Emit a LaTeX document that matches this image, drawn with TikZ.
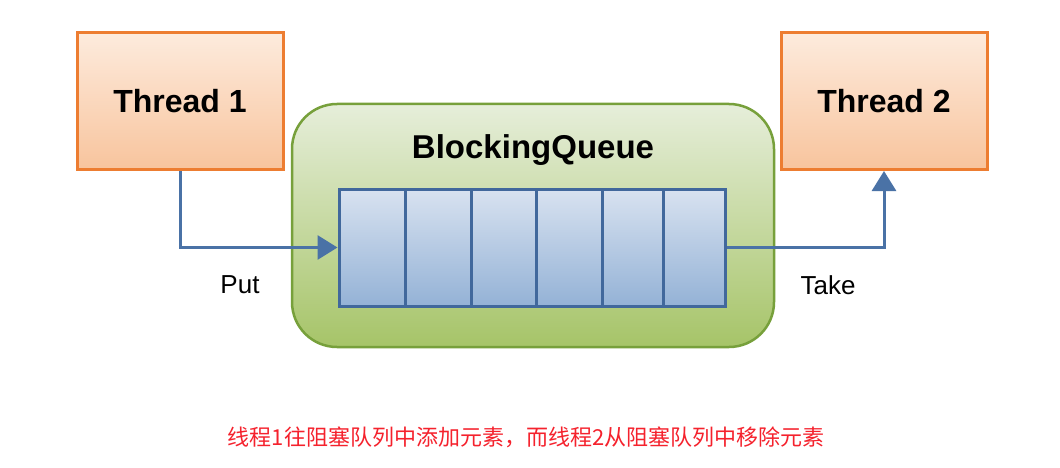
\documentclass[tikz,border=0pt]{standalone}
\usepackage{fontspec}
\setmainfont{Liberation Sans}
\newfontfamily\cjk{Noto Sans CJK SC}
\usetikzlibrary{arrows.meta,positioning,calc}

\definecolor{thrline}{HTML}{ED7D31}
\definecolor{thrtop}{HTML}{FDEBDD}
\definecolor{thrbot}{HTML}{F8C49D}
\definecolor{bqline}{HTML}{77A03B}
\definecolor{bqtop}{HTML}{E6EEDA}
\definecolor{bqbot}{HTML}{A6C468}
\definecolor{qline}{HTML}{41689C}
\definecolor{qtop}{HTML}{D8E2F0}
\definecolor{qbot}{HTML}{94B2D6}
\definecolor{flow}{HTML}{4A72A6}
\definecolor{note}{HTML}{F5222D}

\tikzset{
  thread/.style={draw=thrline,line width=3pt,top color=thrtop,bottom color=thrbot,
    minimum width=206pt,minimum height=137pt,inner sep=0pt,
    font=\fontsize{32}{36}\selectfont\bfseries},
  bqbox/.style={draw=bqline,line width=2.5pt,top color=bqtop,bottom color=bqbot,
    rounded corners=45pt,minimum width=482pt,minimum height=243pt,inner sep=0pt},
  slots/.style={draw=qline,line width=3pt,top color=qtop,bottom color=qbot,
    minimum width=386pt,minimum height=117pt,inner sep=0pt},
  flowarrow/.style={draw=flow,line width=3pt,-{Triangle[length=20pt,width=24pt]}},
  oplabel/.style={font=\fontsize{26}{30}\selectfont}
}

\begin{document}
\begin{tikzpicture}[x=1pt,y=-1pt]
  % 画布
  \useasboundingbox[fill=white] (0,0) rectangle (1060,468);

  % 线程
  \node[thread] (t1) at (180,101) {Thread 1};
  \node[thread] (t2) at (884,101) {Thread 2};

  % 阻塞队列
  \node[bqbox] (bq) at (533,225.5) {};
  \node[font=\fontsize{33}{38}\selectfont\bfseries] (bqname) at (533,150) {BlockingQueue};
  \node[slots] (queue) at (532,247.5) {};
  \foreach \x in {405,471,536,602,663} {
    \draw[qline,line width=3pt] (\x,189) -- (\x,306);
  }

  % 放入与取出
  \draw[flowarrow] (t1.south) |- (queue.west);
  \draw[flowarrow] (queue.east) -| (t2.south);
  \node[oplabel] (put) at (240,285) {Put};
  \node[oplabel] (take) at (828,285) {Take};

  % 说明
  \node[note,font=\cjk\fontsize{22}{26}\selectfont] (caption) at (526,437)
    {线程1往阻塞队列中添加元素，而线程2从阻塞队列中移除元素};
\end{tikzpicture}
\end{document}
